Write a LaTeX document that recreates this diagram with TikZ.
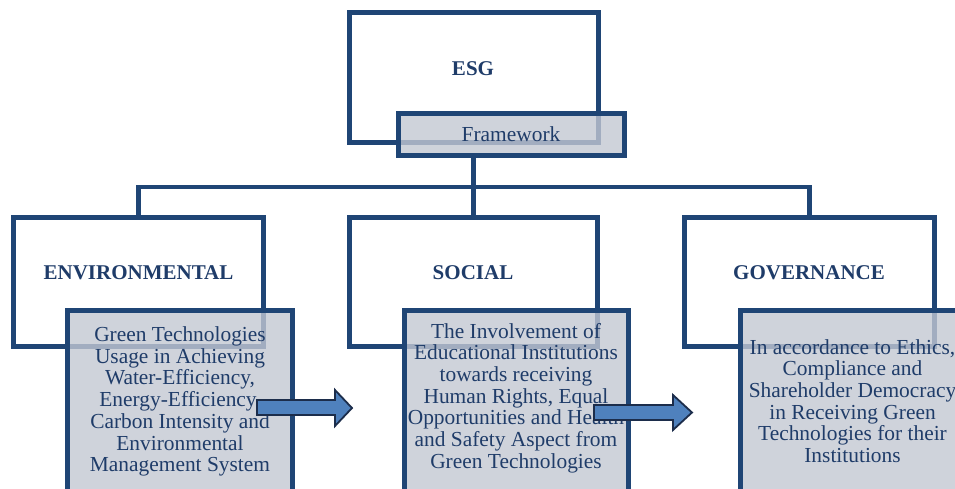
\documentclass[tikz,border=0pt]{standalone}
\usepackage{fontspec}
\setmainfont{Liberation Serif}
\definecolor{navy}{RGB}{31,69,117}
\definecolor{txtblue}{RGB}{31,60,105}
\definecolor{boxgray}{RGB}{195,200,211}
\definecolor{arrowfill}{RGB}{79,129,189}
\definecolor{arrowline}{RGB}{28,45,75}
\begin{document}
\begin{tikzpicture}[x=1pt,y=-1pt,
  topbox/.style={draw=navy,line width=5pt,rectangle,inner sep=0pt,line join=miter},
  graybox/.style={draw=navy,line width=5pt,rectangle,inner sep=0pt,fill=boxgray,fill opacity=0.8,draw opacity=1},
  conn/.style={draw=navy,line width=4.5pt,line join=miter},
  title/.style={text=txtblue,font=\fontsize{21}{22}\selectfont\bfseries,inner sep=0pt},
  body/.style={text=txtblue,font=\fontsize{21.4}{21.7}\selectfont,align=center,inner sep=0pt},
  blockarrow/.style={fill=arrowfill,draw=arrowline,line width=1.8pt,line join=miter}]
\useasboundingbox (0,0) rectangle (955,488);
\clip (0,0) rectangle (955,488);
\fill[white] (0,0) rectangle (955,488);
% top boxes
\node[topbox,minimum width=249.5pt,minimum height=130pt] (esg) at (474,77.5) {};
\node[topbox,minimum width=250pt,minimum height=129pt] (env) at (138.5,282) {};
\node[topbox,minimum width=248pt,minimum height=129pt] (soc) at (473.5,282) {};
\node[topbox,minimum width=250pt,minimum height=129pt] (gov) at (809.5,282) {};
% framework
\node[graybox,minimum width=226pt,minimum height=42pt] (fw) at (511.5,134.5) {};
% connectors
\coordinate (hub) at (474,187);
\draw[conn] (fw.south -| soc.north) -- (soc.north |- hub);
\draw[conn] (env.north) -- (env.north |- hub) -- (gov.north |- hub) -- (gov.north);
\draw[conn] (soc.north |- hub) -- (soc.north);
% titles
\node[title] (esgt) at (473,69) {ESG};
\node[body] (fwt) at (511,134) {Framework};
\node[title] (envt) at (138.5,272.5) {ENVIRONMENTAL};
\node[title] (soct) at (473,272.5) {SOCIAL};
\node[title] (govt) at (809,272.5) {GOVERNANCE};
% gray detail boxes
\node[graybox,minimum width=225pt,minimum height=185pt] (envd) at (180,403) {};
\node[graybox,minimum width=224pt,minimum height=185pt] (socd) at (516.5,403) {};
\node[graybox,minimum width=224.5pt,minimum height=185pt] (govd) at (852.75,403) {};
\node[body] (envdt) at (180,401.5) {Green Technologies\\Usage in Achieving\\Water-Efficiency,\\Energy-Efficiency,\\Carbon Intensity and\\Environmental\\Management System};
\node[body] (socdt) at (516,398) {The Involvement of\\Educational Institutions\\towards receiving\\Human Rights, Equal\\Opportunities and Health\\and Safety Aspect from\\Green Technologies};
\node[body] (govdt) at (852.5,401) {In accordance to Ethics,\\Compliance and\\Shareholder Democracy\\in Receiving Green\\Technologies for their\\Institutions};
% block arrows
\draw[blockarrow] (257,400) -- (335,400) -- (335,390) -- (352,408) -- (335,426) -- (335,415) -- (257,415) -- cycle;
\draw[blockarrow] (594,405) -- (673,405) -- (673,395) -- (692,412.5) -- (673,430) -- (673,420) -- (594,420) -- cycle;
\end{tikzpicture}
\end{document}
